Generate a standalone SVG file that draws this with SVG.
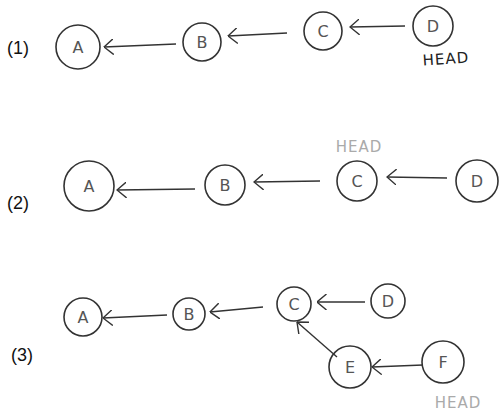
<svg xmlns="http://www.w3.org/2000/svg" width="500" height="412" viewBox="0 0 500 412">
<style>
.node circle{fill:none;stroke:#333;stroke-width:1.6}
.node text{font-family:"DejaVu Sans",sans-serif;font-size:16px;fill:#555;text-anchor:middle;dominant-baseline:central}
.lbl{font-family:"Liberation Sans",Arial,sans-serif;font-size:18px;fill:#111}
.head{font-family:"DejaVu Sans",sans-serif;font-size:15px;letter-spacing:1px;text-anchor:middle}
#edges line{stroke:#333;stroke-width:1.4;marker-end:url(#arr)}
</style>
<defs>
<marker id="arr" viewBox="0 0 10 16" refX="9.5" refY="8" markerWidth="10" markerHeight="16" markerUnits="userSpaceOnUse" orient="auto">
<path d="M0,0 L9.5,8 L0,16" fill="none" stroke="#333" stroke-width="1.4"/>
</marker>
</defs>
<rect width="500" height="412" fill="#fff"/>
<text class="lbl" x="7" y="54">(1)</text>
<text class="lbl" x="7" y="209">(2)</text>
<text class="lbl" x="11" y="361">(3)</text>

<g id="edges">
<line x1="176" y1="44" x2="104" y2="47"/>
<line x1="287" y1="33" x2="228" y2="36"/>
<line x1="405" y1="26" x2="350" y2="27"/>
<line x1="195" y1="189" x2="117" y2="190"/>
<line x1="320" y1="181" x2="254" y2="182"/>
<line x1="447" y1="178" x2="387" y2="177"/>
<line x1="167" y1="315" x2="103" y2="318"/>
<line x1="263" y1="307" x2="210" y2="312"/>
<line x1="365" y1="302" x2="317" y2="302"/>
<line x1="337" y1="357" x2="297" y2="322"/>
<line x1="423" y1="365" x2="372" y2="367"/>
</g>

<g id="r1A" class="node"><circle cx="78" cy="47" r="22"/><text x="78" y="47">A</text></g>
<g id="r1B" class="node"><circle cx="202" cy="42" r="19"/><text x="202" y="42">B</text></g>
<g id="r1C" class="node"><circle cx="323" cy="31" r="19"/><text x="323" y="31">C</text></g>
<g id="r1D" class="node"><circle cx="433" cy="26" r="20"/><text x="433" y="26">D</text></g>
<text class="head" x="446" y="64" fill="#222" transform="rotate(-4 446 60)">HEAD</text>

<g id="r2A" class="node"><circle cx="89" cy="186" r="25"/><text x="89" y="186">A</text></g>
<g id="r2B" class="node"><circle cx="225" cy="185" r="20"/><text x="225" y="185">B</text></g>
<g id="r2C" class="node"><circle cx="357" cy="181" r="20"/><text x="357" y="181">C</text></g>
<g id="r2D" class="node"><circle cx="477" cy="181" r="21"/><text x="477" y="181">D</text></g>
<text class="head" x="359" y="152" fill="#aaa">HEAD</text>

<g id="r3A" class="node"><circle cx="83" cy="317" r="19"/><text x="83" y="317">A</text></g>
<g id="r3B" class="node"><circle cx="189" cy="314" r="16"/><text x="189" y="314">B</text></g>
<g id="r3C" class="node"><circle cx="294" cy="304" r="17"/><text x="294" y="304">C</text></g>
<g id="r3D" class="node"><circle cx="388" cy="301" r="17"/><text x="388" y="301">D</text></g>
<g id="r3E" class="node"><circle cx="350" cy="367" r="21"/><text x="350" y="367">E</text></g>
<g id="r3F" class="node"><circle cx="443" cy="362" r="21"/><text x="443" y="362">F</text></g>
<text class="head" x="458" y="408" fill="#aaa">HEAD</text>
</svg>
